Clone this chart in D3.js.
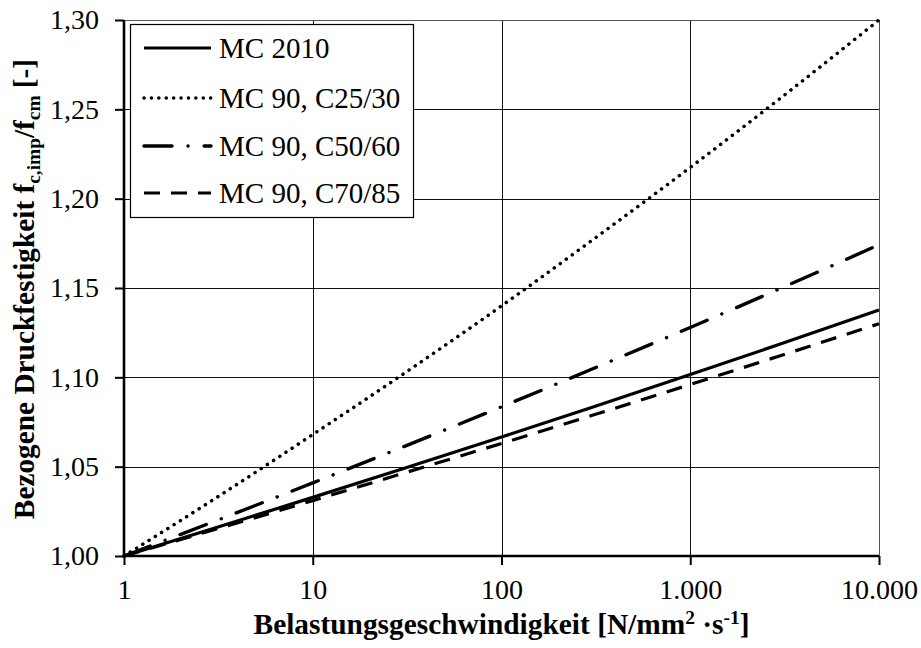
<!DOCTYPE html>
<html>
<head>
<meta charset="utf-8">
<script src="https://cdn.jsdelivr.net/npm/d3@7"></script>
<style>
  html, body { margin: 0; padding: 0; background: #fff; }
  svg { display: block; }
  svg text { fill: #000; }
</style>
</head>
<body>
<svg id="chart" width="921" height="648"></svg>
<script>
// ---- data ----
const rates = [1, 3, 10, 30, 100, 300, 1000, 3000, 10000];
const mc2010   = [1.000, 1.0155, 1.0328, 1.0488, 1.0666, 1.0831, 1.1016, 1.1186, 1.1377];
const c25_30   = [1.000, 1.0318, 1.0680, 1.1017, 1.1400, 1.1765, 1.2175, 1.2562, 1.3000];
const c50_60   = [1.000, 1.0193, 1.0409, 1.0610, 1.0835, 1.1045, 1.1279, 1.1497, 1.1742];
const c70_85   = [1.000, 1.0147, 1.0310, 1.0462, 1.0630, 1.0786, 1.0960, 1.1121, 1.1300];
const seriesNames = ["MC 2010", "MC 90, C25/30", "MC 90, C50/60", "MC 90, C70/85"];
const xTicks = [1, 10, 100, 1000, 10000];
const xTickLabels = ["1", "10", "100", "1.000", "10.000"];
const yTicks = [1.00, 1.05, 1.10, 1.15, 1.20, 1.25, 1.30];
const yTickLabels = ["1,00", "1,05", "1,10", "1,15", "1,20", "1,25", "1,30"];

const seriesValues = [mc2010, c25_30, c50_60, c70_85];
const styles = [
  { dash: null,            cap: "butt",  width: 3.2 },
  { dash: "0.1 7.3",       cap: "round", width: 3.5 },
  { dash: "28 16 0.1 16",  cap: "round", width: 3.4 },
  { dash: "16 11",         cap: "butt",  width: 3.2 }
];

const FONT = "'Liberation Serif', Tinos, 'Times New Roman', Times, 'DejaVu Serif', serif";
const svg = d3.select("#chart");
const L = 124, R = 879, T = 20, B = 556;
const x = d3.scaleLog().domain([1, 10000]).range([L, R]);
const y = d3.scaleLinear().domain([1.0, 1.3]).range([B, T]);

// grid
const grid = svg.append("g");
grid.selectAll("line.v").data(xTicks.slice(1)).join("line")
  .attr("x1", d => Math.round(x(d)) + 0.5).attr("x2", d => Math.round(x(d)) + 0.5)
  .attr("y1", T).attr("y2", B)
  .attr("stroke", "#111").attr("stroke-width", 1);
grid.selectAll("line.h").data(yTicks.slice(1)).join("line")
  .attr("y1", d => Math.round(y(d)) + 0.5).attr("y2", d => Math.round(y(d)) + 0.5)
  .attr("x1", L).attr("x2", R)
  .attr("stroke", "#111").attr("stroke-width", 1);
// top & right frame
svg.append("path")
  .attr("d", `M${L},${T + 0.5}H${R + 0.5}V${B}`)
  .attr("fill", "none").attr("stroke", "#555").attr("stroke-width", 1);

// series
const line = d3.line().x(d => x(d[0])).y(d => y(d[1])).curve(d3.curveMonotoneX);
const plot = svg.append("g");
seriesValues.forEach((vals, i) => {
  const pts = rates.map((r, k) => [r, vals[k]]);
  plot.append("path")
    .datum(pts)
    .attr("d", line)
    .attr("fill", "none")
    .attr("stroke", "#000")
    .attr("stroke-width", styles[i].width)
    .attr("stroke-linecap", styles[i].cap)
    .attr("stroke-dasharray", styles[i].dash);
});

// axes
const xAxis = d3.axisBottom(x).tickValues(xTicks)
  .tickFormat((d, i) => xTickLabels[i]).tickSize(9).tickPadding(14);
const yAxis = d3.axisLeft(y).tickValues(yTicks)
  .tickFormat((d, i) => yTickLabels[i]).tickSize(9).tickPadding(16);

const gx = svg.append("g").attr("transform", `translate(0,${B})`).call(xAxis);
const gy = svg.append("g").attr("transform", `translate(${L},0)`).call(yAxis);
[gx, gy].forEach(g => {
  g.attr("font-family", FONT).attr("font-size", 28);
  g.select(".domain").attr("stroke", "#000").attr("stroke-width", 2.6);
  g.selectAll(".tick line").attr("stroke", "#000").attr("stroke-width", 2);
  g.selectAll(".tick text").attr("font-family", FONT)
    .attr("font-size", 28).attr("fill", "#000");
});
gx.select(".domain").attr("d", `M${L},0H${R}`);
gy.select(".domain").attr("d", `M0,${B}V${T}`);

// fit a title to a target length by scaling its font sizes
function fitTitle(sel, base, target) {
  const w = sel.node().getBBox().width;
  if (w > 0) {
    const k = target / w;
    sel.attr("font-size", base * k);
    sel.selectAll("tspan.sub").attr("font-size", base * 0.66 * k);
  }
}

// axis titles
const xt = svg.append("text")
  .attr("x", (L + R) / 2).attr("y", 634)
  .attr("text-anchor", "middle").attr("font-family", FONT)
  .attr("font-size", 29).attr("font-weight", "bold");
xt.append("tspan").text("Belastungsgeschwindigkeit [N/mm");
xt.append("tspan").attr("class", "sub").attr("dy", -10).attr("font-size", 19).text("2");
xt.append("tspan").attr("dy", 10).text(" ·s");
xt.append("tspan").attr("class", "sub").attr("dy", -10).attr("font-size", 19).text("-1");
xt.append("tspan").attr("dy", 10).text("]");
fitTitle(xt, 29, 496);

const yt = svg.append("text")
  .attr("transform", `translate(34,${(T + B) / 2 + 1}) rotate(-90)`)
  .attr("text-anchor", "middle").attr("font-family", FONT)
  .attr("font-size", 29).attr("font-weight", "bold");
yt.append("tspan").text("Bezogene Druckfestigkeit f");
yt.append("tspan").attr("class", "sub").attr("dy", 6).attr("font-size", 19).text("c,imp");
yt.append("tspan").attr("dy", -6).text("/f");
yt.append("tspan").attr("class", "sub").attr("dy", 6).attr("font-size", 19).text("cm");
yt.append("tspan").attr("dy", -6).text(" [-]");
fitTitle(yt, 29, 460);

// legend
const lg = svg.append("g");
lg.append("rect").attr("x", 130.5).attr("y", 24.5).attr("width", 283).attr("height", 193)
  .attr("fill", "#fff").attr("stroke", "#000").attr("stroke-width", 1.2);
const rowY = [48, 98, 146, 193];
seriesNames.forEach((name, i) => {
  lg.append("line")
    .attr("x1", 144).attr("x2", 211).attr("y1", rowY[i]).attr("y2", rowY[i])
    .attr("stroke", "#000")
    .attr("stroke-width", styles[i].width)
    .attr("stroke-linecap", styles[i].cap)
    .attr("stroke-dasharray", styles[i].dash);
  lg.append("text")
    .attr("x", 219).attr("y", rowY[i]).attr("dy", "0.35em")
    .attr("font-family", FONT)
    .attr("font-size", 29).text(name);
});
</script>
</body>
</html>
